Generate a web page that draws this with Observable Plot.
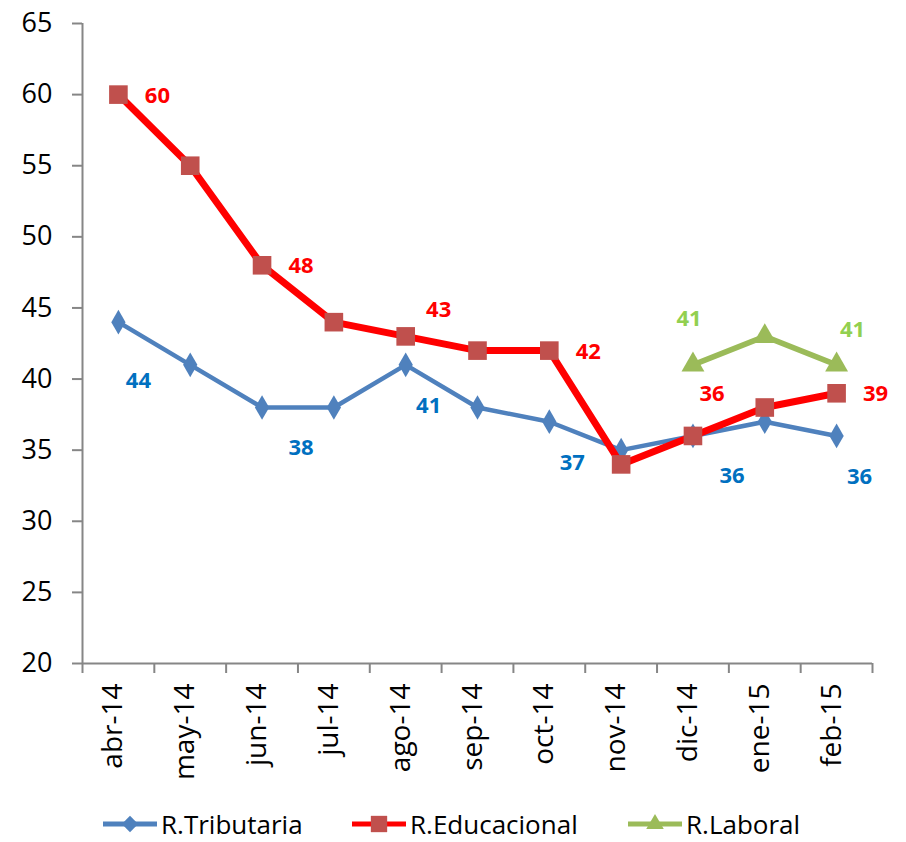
<!DOCTYPE html>
<html>
<head>
<meta charset="utf-8">
<script src="https://cdn.jsdelivr.net/npm/d3@7"></script>
<script src="https://cdn.jsdelivr.net/npm/@observablehq/plot@0.6"></script>
<style>
  body { margin: 0; background: #fff; font-family: "Open Sans", sans-serif; }
  #chart { width: 906px; height: 805px; }
  #chart svg { font-family: "Open Sans", sans-serif; }
  .legend { position: relative; height: 37px; font-size: 26px; color: #000; }
  .legend .item { position: absolute; top: 0; height: 37px; display: flex; align-items: center; }
  .legend svg { margin-right: 2px; }
</style>
</head>
<body>
<div id="chart"></div>
<script>
const months = ["abr-14","may-14","jun-14","jul-14","ago-14","sep-14","oct-14","nov-14","dic-14","ene-15","feb-15"];
const tributaria = [44, 41, 38, 38, 41, 38, 37, 35, 36, 37, 36];
const educacional = [60, 55, 48, 44, 43, 42, 42, 34, 36, 38, 39];
const laboral = [null, null, null, null, null, null, null, null, 41, 43, 41];
const yTicks = [20, 25, 30, 35, 40, 45, 50, 55, 60, 65];
const seriesNames = ["R.Tributaria", "R.Educacional", "R.Laboral"];
const labelIdx = [0, 2, 4, 6, 8, 10];

const rows = (vals) => months.map((m, i) => ({i, m, v: vals[i]})).filter(d => d.v != null);
const trib = rows(tributaria), edu = rows(educacional), lab = rows(laboral);
const tribL = trib.filter(d => labelIdx.includes(d.i));
const eduL = edu.filter(d => labelIdx.includes(d.i));
const idx = months.map((_, i) => i);
const bounds = d3.range(-0.5, months.length, 1);

const C = {trib: "#4F81BD", tribLbl: "#0070C0", edu: "#FF0000", eduMk: "#C0504D", lab: "#9BBB59", labLbl: "#92D050"};
const lbl = {fontSize: 22, fontWeight: "bold", fontFamily: "'Open Sans', sans-serif"};

const chart = Plot.plot({
  width: 906,
  height: 805,
  marginLeft: 82,
  marginRight: 34,
  marginTop: 23,
  marginBottom: 142,
  style: {fontFamily: "'Open Sans', sans-serif", background: "#fff", color: "#000"},
  x: {type: "linear", domain: [-0.5, months.length - 0.5], axis: null},
  y: {domain: [20, 65], axis: null},
  marks: [
    // axis ticks
    Plot.axisY({ticks: yTicks, tickSize: 10, stroke: "#868686", strokeWidth: 2, tickFormat: () => "", label: null}),
    Plot.axisX({ticks: bounds, tickSize: 10, stroke: "#868686", strokeWidth: 2, tickFormat: () => "", label: null}),
    // tick labels as text marks
    Plot.text(yTicks, {y: d => d, text: d => String(d), frameAnchor: "left", dx: -30, textAnchor: "end", fontSize: 27, fill: "#000", fontFamily: "'Open Sans', sans-serif"}),
    Plot.text(idx, {x: d => d, text: i => months[i], frameAnchor: "bottom", dx: 4, dy: 20, rotate: -90, textAnchor: "end", fontSize: 28, fill: "#000", fontFamily: "'Open Sans', sans-serif"}),
    Plot.ruleX([-0.5], {stroke: "#868686", strokeWidth: 2}),
    Plot.ruleY([20], {stroke: "#868686", strokeWidth: 2}),
    // Tributaria
    Plot.line(trib, {x: "i", y: "v", stroke: C.trib, strokeWidth: 4.5}),
    Plot.dot(trib, {x: "i", y: "v", symbol: "diamond", r: 7.5, fill: C.trib, stroke: null}),
    // Educacional
    Plot.line(edu, {x: "i", y: "v", stroke: C.edu, strokeWidth: 7}),
    Plot.dot(edu, {x: "i", y: "v", symbol: "square", r: 10.5, fill: C.eduMk, stroke: null}),
    // Laboral
    Plot.line(lab, {x: "i", y: "v", stroke: C.lab, strokeWidth: 5.5}),
    Plot.dot(lab, {x: "i", y: "v", symbol: "triangle", r: 8.5, fill: C.lab, stroke: null}),
    // Tributaria labels
    Plot.text(tribL.filter(d => d.i === 0), {x: "i", y: "v", text: "v", dx: 20, dy: 59, fill: C.tribLbl, ...lbl}),
    Plot.text(tribL.filter(d => d.i === 2 || d.i === 8), {x: "i", y: "v", text: "v", dx: 39, dy: 40, fill: C.tribLbl, ...lbl}),
    Plot.text(tribL.filter(d => d.i === 4 || d.i === 6 || d.i === 10), {x: "i", y: "v", text: "v", dx: 23, dy: 41, fill: C.tribLbl, ...lbl}),
    // Educacional labels
    Plot.text(eduL.filter(d => d.i !== 4 && d.i !== 8), {x: "i", y: "v", text: "v", dx: 39, dy: 1, fill: C.edu, ...lbl}),
    Plot.text(eduL.filter(d => d.i === 4), {x: "i", y: "v", text: "v", dx: 33, dy: -26, fill: C.edu, ...lbl}),
    Plot.text(eduL.filter(d => d.i === 8), {x: "i", y: "v", text: "v", dx: 19, dy: -42, fill: C.edu, ...lbl}),
    // Laboral labels
    Plot.text(lab.filter(d => d.i === 8), {x: "i", y: "v", text: "v", dx: -4, dy: -46, fill: C.labLbl, ...lbl}),
    Plot.text(lab.filter(d => d.i === 10), {x: "i", y: "v", text: "v", dx: 16, dy: -35, fill: C.labLbl, ...lbl})
  ]
});
document.getElementById("chart").appendChild(chart);

// Legend
const legend = document.createElement("div");
legend.className = "legend";
const legendSpecs = [
  {name: seriesNames[0], line: C.trib, mk: C.trib, shape: "diamond", left: 101},
  {name: seriesNames[1], line: C.edu, mk: C.eduMk, shape: "square", left: 350},
  {name: seriesNames[2], line: C.lab, mk: C.lab, shape: "triangle", left: 626}
];
for (const s of legendSpecs) {
  const item = document.createElement("div");
  item.className = "item";
  item.style.left = s.left + "px";
  const sym = s.shape === "diamond" ? d3.symbolDiamond2 : s.shape === "square" ? d3.symbolSquare2 : d3.symbolTriangle2;
  const size = s.shape === "diamond" ? 170 : s.shape === "square" ? 340 : 220;
  const path = d3.symbol(sym, size)();
  item.innerHTML = `<svg width="58" height="26"><line x1="2" x2="56" y1="13" y2="13" stroke="${s.line}" stroke-width="5"/><path transform="translate(29,13)" d="${path}" fill="${s.mk}"/></svg><span>${s.name}</span>`;
  legend.appendChild(item);
}
document.body.appendChild(legend);
</script>
</body>
</html>
